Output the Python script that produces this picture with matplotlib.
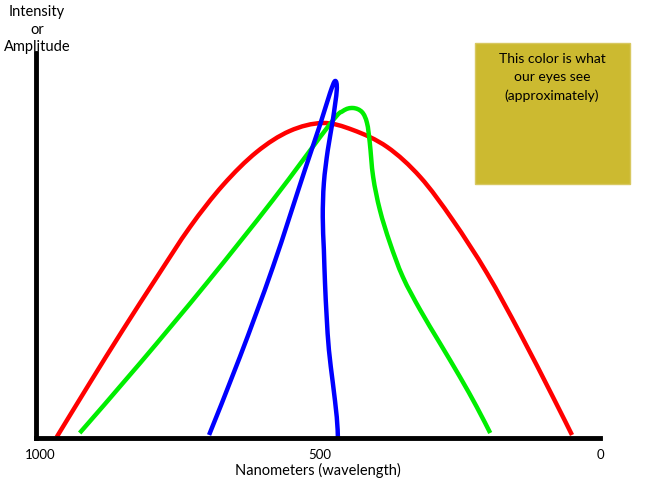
import numpy as np
import matplotlib.pyplot as plt
from matplotlib.patches import Rectangle, PathPatch
from matplotlib.path import Path

plt.rcParams['font.family'] = ['Lato', 'DejaVu Sans']

# --- Data (wavelength in nm, intensity in arbitrary units) ---
red_nm = [970, 911, 852, 791, 732, 673, 613, 554, 495, 441, 380, 321, 263, 202, 143, 84, 50]
red_int = [1, 55, 108, 161, 211, 253, 286, 307, 315, 308, 291, 261, 218, 165, 105, 41, 3]

green_nm = [929, 821, 702, 584, 482, 459, 441, 425, 416, 411,
            405, 393, 375, 352, 321, 286, 250, 220, 196]
green_int = [5, 75, 155, 238, 314, 327, 330, 326, 315, 295,
             261, 228, 195, 161, 128, 95, 61, 31, 5]

blue_nm = [698, 643, 584, 527, 500, 482, 473, 470, 477, 486, 493, 495, 493, 491,
           488, 484, 477, 470, 468]
blue_int = [3, 81, 171, 268, 313, 345, 357, 348, 318, 288, 255, 221, 188, 155,
            121, 88, 55, 21, 1]

xticks = [1000, 500, 0]
box_text = 'This color is what\nour eyes see\n(approximately)'


def smooth_path(xs, ys):
    """Catmull-Rom curve through the points, drawn as cubic Bezier segments."""
    p = np.column_stack([xs, ys]).astype(float)
    p = np.vstack([p[0], p, p[-1]])
    verts = [p[1]]
    codes = [Path.MOVETO]
    for i in range(1, len(p) - 2):
        c1 = p[i] + (p[i + 1] - p[i - 1]) / 6
        c2 = p[i + 1] - (p[i + 2] - p[i]) / 6
        verts += [c1, c2, p[i + 1]]
        codes += [Path.CURVE4] * 3
    return Path(verts, codes)


W, H = 650, 488
fig = plt.figure(figsize=(W / 100, H / 100), dpi=100)
ax = fig.add_axes([36 / W, (H - 438) / H, (600 - 36) / W, 385 / H])

for xs, ys, c in [(red_nm, red_int, '#ff0000'),
                  (green_nm, green_int, '#00ee00'),
                  (blue_nm, blue_int, '#0000ff')]:
    ax.add_patch(PathPatch(smooth_path(xs, ys), fill=False, edgecolor=c, lw=3.2,
                           capstyle='butt', joinstyle='round'))

ax.set_xlim(1007, 0)
ax.set_ylim(0, 385)
for s in ['top', 'right']:
    ax.spines[s].set_visible(False)
for s in ['left', 'bottom']:
    ax.spines[s].set_linewidth(3.5)
    ax.spines[s].set_color('black')
    ax.spines[s].set_zorder(3)
ax.set_yticks([])
ax.set_xticks(xticks)
ax.set_xticklabels([str(t) for t in xticks], fontsize=9.5)
ax.tick_params(axis='x', length=0, pad=8)
ax.set_xlabel('Nanometers (wavelength)', fontsize=10.5, labelpad=1)

fig.text(37 / W, 1 - 5 / H, 'Intensity\nor\nAmplitude', ha='center', va='top',
         fontsize=10.5, linespacing=1.33)

fig.patches.append(Rectangle((475 / W, 1 - 184 / H), 155 / W, 141 / H,
                             transform=fig.transFigure, facecolor='#ccba30',
                             edgecolor='#d8c860', lw=1))
fig.text(552 / W, 1 - 53 / H, box_text, ha='center', va='top', fontsize=10,
         linespacing=1.62, color='black')

fig.savefig('out.png', dpi=100)
